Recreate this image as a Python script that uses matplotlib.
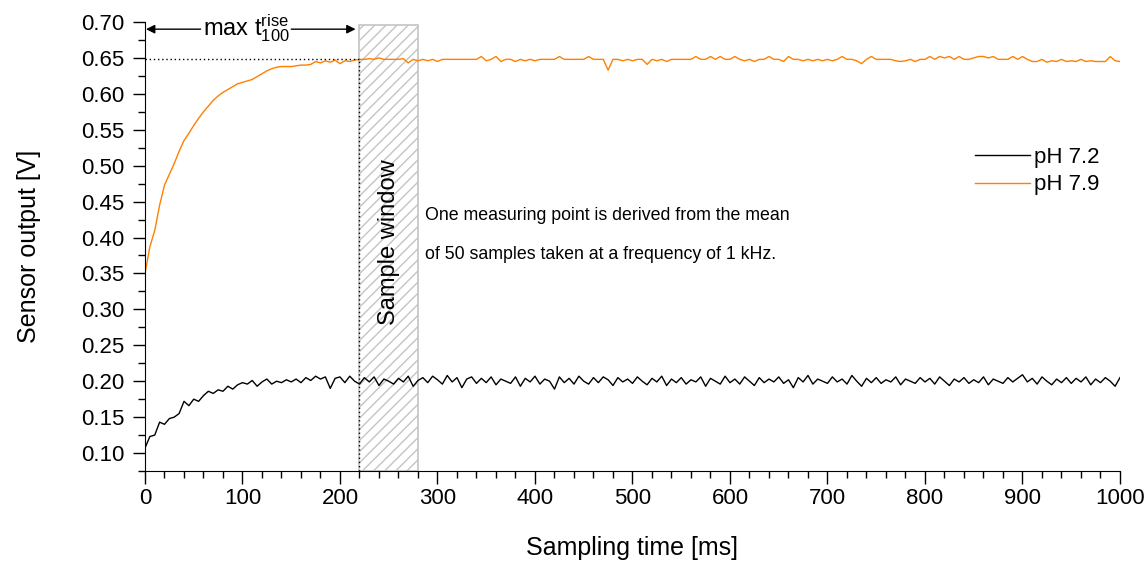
import numpy as np
import matplotlib
matplotlib.use("Agg")
import matplotlib.pyplot as plt
from matplotlib.patches import Rectangle
from matplotlib.ticker import MultipleLocator

plt.rcParams['font.family'] = ['Liberation Sans', 'DejaVu Sans']
plt.rcParams['mathtext.fontset'] = 'custom'
plt.rcParams['mathtext.rm'] = 'Liberation Sans'
plt.rcParams['hatch.linewidth'] = 1.0

# sampling time grid [ms], one reading every 5 ms
time_ms = np.arange(0, 1001, 5)

# pH 7.9 (orange)
ph79 = [
    0.350, 0.387, 0.410, 0.445, 0.473, 0.488, 0.503, 0.520, 0.535, 0.545,
    0.556, 0.566, 0.575, 0.583, 0.591, 0.597, 0.602, 0.606, 0.610, 0.614,
    0.616, 0.618, 0.620, 0.624, 0.628, 0.632, 0.635, 0.637, 0.638, 0.638,
    0.638, 0.639, 0.640, 0.640, 0.641, 0.645, 0.643, 0.646, 0.644, 0.647,
    0.642, 0.646, 0.645, 0.647, 0.648, 0.648, 0.649, 0.648, 0.650, 0.648,
    0.648, 0.648, 0.648, 0.649, 0.643, 0.648, 0.646, 0.648, 0.646, 0.648,
    0.645, 0.648, 0.648, 0.648, 0.648, 0.648, 0.648, 0.648, 0.648, 0.652,
    0.646, 0.648, 0.652, 0.645, 0.648, 0.648, 0.645, 0.648, 0.646, 0.648,
    0.646, 0.648, 0.648, 0.648, 0.648, 0.652, 0.648, 0.648, 0.648, 0.648,
    0.648, 0.652, 0.648, 0.648, 0.648, 0.633, 0.648, 0.648, 0.646, 0.648,
    0.646, 0.648, 0.648, 0.641, 0.648, 0.646, 0.648, 0.645, 0.648, 0.648,
    0.648, 0.648, 0.648, 0.652, 0.648, 0.648, 0.652, 0.648, 0.652, 0.648,
    0.648, 0.652, 0.648, 0.646, 0.648, 0.645, 0.648, 0.648, 0.652, 0.648,
    0.648, 0.645, 0.652, 0.648, 0.648, 0.646, 0.648, 0.646, 0.648, 0.646,
    0.648, 0.646, 0.648, 0.652, 0.648, 0.648, 0.646, 0.642, 0.648, 0.652,
    0.648, 0.648, 0.648, 0.648, 0.646, 0.645, 0.646, 0.648, 0.645, 0.648,
    0.648, 0.652, 0.648, 0.652, 0.650, 0.652, 0.648, 0.652, 0.648, 0.648,
    0.650, 0.652, 0.652, 0.650, 0.652, 0.648, 0.648, 0.648, 0.652, 0.648,
    0.652, 0.648, 0.645, 0.645, 0.648, 0.644, 0.646, 0.645, 0.648, 0.645,
    0.646, 0.645, 0.648, 0.645, 0.646, 0.645, 0.645, 0.645, 0.652, 0.646,
    0.645,
]

# pH 7.2 (black)
ph72 = [
    0.107, 0.123, 0.125, 0.143, 0.140, 0.148, 0.150, 0.155, 0.172, 0.166,
    0.175, 0.172, 0.180, 0.186, 0.183, 0.188, 0.186, 0.193, 0.189, 0.195,
    0.198, 0.196, 0.201, 0.193, 0.199, 0.203, 0.196, 0.200, 0.198, 0.202,
    0.199, 0.203, 0.198, 0.205, 0.201, 0.207, 0.203, 0.206, 0.190, 0.204,
    0.206, 0.198, 0.207, 0.200, 0.196, 0.205, 0.199, 0.206, 0.194, 0.203,
    0.200, 0.196, 0.204, 0.199, 0.207, 0.193, 0.201, 0.205, 0.198, 0.207,
    0.202, 0.196, 0.208, 0.199, 0.205, 0.191, 0.203, 0.206, 0.197, 0.204,
    0.198, 0.206, 0.195, 0.203, 0.200, 0.197, 0.206, 0.193, 0.204, 0.199,
    0.207, 0.196, 0.203, 0.200, 0.189, 0.206, 0.198, 0.204, 0.196, 0.207,
    0.200, 0.196, 0.205, 0.198, 0.206, 0.202, 0.194, 0.205, 0.199, 0.203,
    0.197, 0.206, 0.200, 0.195, 0.204, 0.199, 0.207, 0.194, 0.203, 0.198,
    0.205, 0.196, 0.202, 0.199, 0.206, 0.193, 0.204, 0.200, 0.196, 0.207,
    0.198, 0.203, 0.196, 0.206, 0.200, 0.194, 0.205, 0.198, 0.203, 0.199,
    0.206, 0.197, 0.202, 0.191, 0.205, 0.199, 0.208, 0.196, 0.203, 0.200,
    0.197, 0.206, 0.199, 0.203, 0.196, 0.208, 0.200, 0.193, 0.204, 0.198,
    0.205, 0.197, 0.202, 0.199, 0.206, 0.195, 0.203, 0.200, 0.197, 0.205,
    0.199, 0.204, 0.196, 0.206, 0.200, 0.194, 0.203, 0.199, 0.205, 0.197,
    0.202, 0.198, 0.206, 0.195, 0.203, 0.200, 0.197, 0.205, 0.199, 0.204,
    0.209, 0.199, 0.204, 0.196, 0.206, 0.200, 0.195, 0.203, 0.198, 0.205,
    0.197, 0.204, 0.199, 0.206, 0.195, 0.203, 0.198, 0.205, 0.200, 0.193,
    0.205,
]

t_rise = 220      # end of max rise time [ms]
window_end = 280  # end of sample window [ms]
v_final = 0.649

fig = plt.figure(figsize=(11.48, 5.61), dpi=100)
ax = fig.add_axes([0.1263, 0.1604, 0.8493, 0.8004])

ax.plot(time_ms, ph72, color='black', lw=1.0, label='pH 7.2')
ax.plot(time_ms, ph79, color='#ff8000', lw=1.0, label='pH 7.9')

# sample window
ax.add_patch(Rectangle((t_rise, 0.075), window_end - t_rise, 0.6205,
                       facecolor='none', edgecolor='#c4c4c4', hatch='///', lw=1.2))
ax.text((t_rise + window_end) / 2, 0.394, 'Sample window', rotation=90,
        ha='center', va='center', fontsize=17)

# rise time markers
ax.plot([0, t_rise], [v_final, v_final], color='black', ls=(0, (1, 2)), lw=1.0)
ax.plot([t_rise, t_rise], [0.075, v_final], color='black', ls=(0, (1, 2)), lw=1.0)
ax.annotate('', xy=(1, 0.690), xytext=(57, 0.690),
            arrowprops=dict(arrowstyle='-|>', color='black', lw=1.0,
                            mutation_scale=13, shrinkA=0, shrinkB=0))
ax.annotate('', xy=(t_rise - 4, 0.690), xytext=(150, 0.690),
            arrowprops=dict(arrowstyle='-|>', color='black', lw=1.0,
                            mutation_scale=13, shrinkA=0, shrinkB=0))
ax.text(104, 0.692, r'max $\mathregular{t^{rise}_{100}}$', ha='center', va='center', fontsize=17)

ax.text(287, 0.431, 'One measuring point is derived from the mean', fontsize=12.8, va='center')
ax.text(287, 0.376, 'of 50 samples taken at a frequency of 1 kHz.', fontsize=12.8, va='center')

ax.set_xlim(0, 1000)
ax.set_ylim(0.075, 0.70)
ax.xaxis.set_major_locator(MultipleLocator(100))
ax.xaxis.set_minor_locator(MultipleLocator(20))
ax.yaxis.set_minor_locator(MultipleLocator(0.025))
ax.set_yticks(np.arange(0.10, 0.701, 0.05))
ax.yaxis.set_major_formatter(plt.FormatStrFormatter('%.2f'))
ax.tick_params(which='major', direction='out', length=9, width=1, labelsize=16)
ax.tick_params(which='minor', direction='out', length=5, width=1)
ax.tick_params(axis='y', which='major', pad=6)
ax.spines['top'].set_visible(False)
ax.spines['right'].set_visible(False)

ax.set_xlabel('Sampling time [ms]', fontsize=18, labelpad=19)
ax.set_ylabel('Sensor output [V]', fontsize=18, labelpad=29)

ax.legend(loc='upper left', bbox_to_anchor=(0.851, 0.722), frameon=False, fontsize=16,
          handlelength=2.5, handletextpad=0.15, borderpad=0, borderaxespad=0, labelspacing=0.3)

fig.savefig('out.png', dpi=100)
